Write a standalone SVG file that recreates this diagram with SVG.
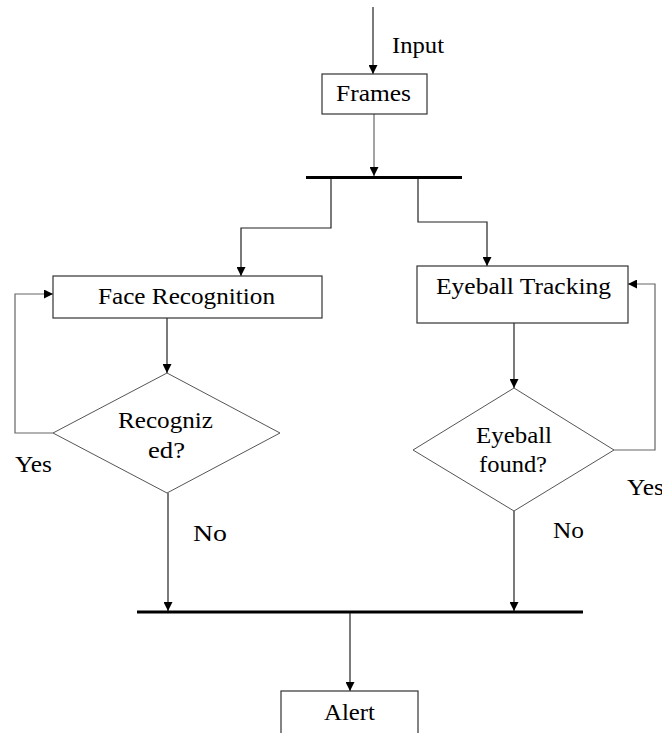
<svg xmlns="http://www.w3.org/2000/svg" width="662" height="733" viewBox="0 0 662 733">
<style>
text{font-family:"Liberation Serif","Times New Roman",serif;font-size:23px;fill:#000}
.box{fill:#fff;stroke:#333;stroke-width:1.2}
.dia{fill:#fff;stroke:#555;stroke-width:1}
.ln{fill:none;stroke:#222;stroke-width:1.2}
.gl{fill:none;stroke:#666;stroke-width:1.2}
.bar{stroke:#000;stroke-width:3}
</style>
<defs>
<marker id="ah" viewBox="0 0 10 10" refX="10" refY="5" markerWidth="9" markerHeight="9" markerUnits="userSpaceOnUse" orient="auto">
<path d="M0,0 L10,5 L0,10 Z" fill="#000"/>
</marker>
</defs>
<g id="connectors">
<line class="ln" x1="373" y1="7" x2="373" y2="74" marker-end="url(#ah)"/>
<line class="gl" x1="374" y1="114" x2="374" y2="176" stroke="#999" marker-end="url(#ah)"/>
<line class="bar" x1="306" y1="177.5" x2="462" y2="177.5"/>
<path class="ln" d="M331 179 V228 H241 V276" marker-end="url(#ah)"/>
<path class="ln" d="M418 179 V222 H487 V266" marker-end="url(#ah)"/>
<line class="ln" x1="167" y1="318" x2="167" y2="373" marker-end="url(#ah)"/>
<line class="ln" x1="514" y1="323" x2="514" y2="388" marker-end="url(#ah)"/>
<path class="gl" d="M53 433 H15 V294 H53" marker-end="url(#ah)"/>
<path class="gl" d="M614 450 H655 V284 H628" marker-end="url(#ah)"/>
<line class="ln" x1="168" y1="493" x2="168" y2="611" marker-end="url(#ah)"/>
<line class="ln" x1="514" y1="511" x2="514" y2="611" marker-end="url(#ah)"/>
<line class="bar" x1="137" y1="612" x2="583" y2="612"/>
<line class="ln" x1="350" y1="613" x2="350" y2="691" marker-end="url(#ah)"/>
<text x="392" y="53" textLength="52" lengthAdjust="spacingAndGlyphs">Input</text>
<text x="15" y="472" textLength="37" lengthAdjust="spacingAndGlyphs">Yes</text>
<text x="627" y="495" textLength="37" lengthAdjust="spacingAndGlyphs">Yes</text>
<text x="193" y="541" textLength="34" lengthAdjust="spacingAndGlyphs">No</text>
<text x="553" y="538" textLength="31" lengthAdjust="spacingAndGlyphs">No</text>
</g>
<g id="frames">
<rect class="box" x="322" y="74" width="105" height="40"/>
<text x="336" y="101" textLength="75" lengthAdjust="spacingAndGlyphs">Frames</text>
</g>
<g id="face-recognition">
<rect class="box" x="53" y="276" width="269" height="42"/>
<text x="98" y="304" textLength="177" lengthAdjust="spacingAndGlyphs">Face Recognition</text>
</g>
<g id="eyeball-tracking">
<rect class="box" x="417" y="266" width="211" height="57"/>
<text x="436" y="294" textLength="175" lengthAdjust="spacingAndGlyphs">Eyeball Tracking</text>
</g>
<g id="recognized">
<polygon class="dia" points="167,373 280,433 167,493 53,433"/>
<text x="118" y="428" textLength="95" lengthAdjust="spacingAndGlyphs">Recogniz</text>
<text x="148" y="458" textLength="37" lengthAdjust="spacingAndGlyphs">ed?</text>
</g>
<g id="eyeball-found">
<polygon class="dia" points="514,388 614,450 514,511 413,450"/>
<text x="476" y="443" textLength="76" lengthAdjust="spacingAndGlyphs">Eyeball</text>
<text x="479" y="472" textLength="68" lengthAdjust="spacingAndGlyphs">found?</text>
</g>
<g id="alert">
<rect class="box" x="281" y="691" width="137" height="50"/>
<text x="324" y="720" textLength="51" lengthAdjust="spacingAndGlyphs">Alert</text>
</g>
</svg>
